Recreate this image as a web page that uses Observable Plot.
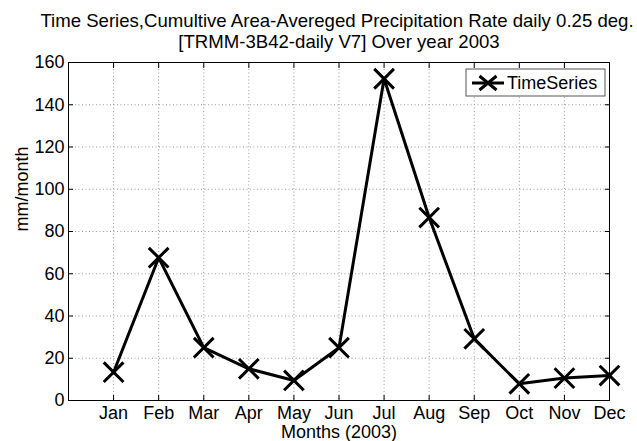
<!DOCTYPE html>
<html><head><meta charset="utf-8">
<script src="https://cdn.jsdelivr.net/npm/d3@7"></script>
<script src="https://cdn.jsdelivr.net/npm/@observablehq/plot@0.6"></script>
<style>body{margin:0;background:#fff;} svg{font-family:"Liberation Sans",Arial,sans-serif;}</style>
</head><body><div id="chart"></div>
<script>
const months = ["Jan","Feb","Mar","Apr","May","Jun","Jul","Aug","Sep","Oct","Nov","Dec"];
const monthIndex = [1,2,3,4,5,6,7,8,9,10,11,12];
const precip = [13.4, 67.6, 25.0, 15.0, 9.5, 25.0, 152.3, 86.6, 29.2, 7.9, 10.6, 11.8];
const yTicks = [0,20,40,60,80,100,120,140,160];
const titleLines = ["Time Series,Cumultive Area-Avereged Precipitation Rate daily 0.25 deg.", "[TRMM-3B42-daily V7] Over year 2003"];
const seriesName = "TimeSeries";

const data = monthIndex.map((m,i)=>({m, v: precip[i]}));
const grid = {stroke:"#9a9a9a", strokeOpacity:1, strokeDasharray:"1,2.5", strokeWidth:1};

const chart = Plot.plot({
  width: 637, height: 441,
  marginLeft: 68, marginRight: 28, marginTop: 62, marginBottom: 41,
  style: {fontSize: "18px", fontFamily: '"Liberation Sans",Arial,sans-serif', color:"#000"},
  x: {domain: [0, 12]},
  y: {domain: [0, 160]},
  marks: [
    Plot.gridX(monthIndex, grid),
    Plot.gridY(yTicks, grid),
    Plot.frame({stroke:"#000", strokeWidth:1}),
    Plot.axisX(monthIndex, {tickFormat: d => months[d-1], tickSize: 0, tickPadding: 6, label: null, fontSize: 18}),
    Plot.axisX(monthIndex, {anchor:"bottom", tickSize: -5, text: null, label: null}),
    Plot.axisX(monthIndex, {anchor:"top", tickSize: -5, text: null, label: null}),
    Plot.axisY(yTicks, {tickSize: 0, tickPadding: 4, label: null, fontSize: 18}),
    Plot.axisY(yTicks, {anchor:"left", tickSize: -5, text: null, label: null}),
    Plot.axisY(yTicks, {anchor:"right", tickSize: -5, text: null, label: null}),
    Plot.text(["Months (2003)"], {frameAnchor:"bottom", lineAnchor:"middle", dy: 32, fontSize: 18}),
    Plot.text(["mm/month"], {frameAnchor:"left", lineAnchor:"middle", dx: -46.5, rotate: -90, fontSize: 18}),
    Plot.text([titleLines[0]], {frameAnchor:"top", lineAnchor:"middle", dy: -41.5, dx: -2, fontSize: 18.6}),
    Plot.text([titleLines[1]], {frameAnchor:"top", lineAnchor:"middle", dy: -20.5, fontSize: 18.6}),
    Plot.line(data, {x:"m", y:"v", stroke:"#000", strokeWidth:3}),
    Plot.dot(data, {x:"m", y:"v", symbol:"times", r: 9, stroke:"#000", strokeWidth:3})
  ]
});
document.getElementById("chart").appendChild(chart);

// Legend box
const svg = d3.select(chart);
const lg = svg.append("g").attr("transform","translate(466,69)");
lg.append("rect").attr("width",139).attr("height",27).attr("fill","#fff").attr("stroke","#555");
lg.append("line").attr("x1",6).attr("x2",38).attr("y1",14).attr("y2",14).attr("stroke","#000").attr("stroke-width",3);
lg.append("path").attr("d","M13.5,7L30.5,21M13.5,21L30.5,7").attr("stroke","#000").attr("stroke-width",3);
lg.append("text").attr("x",41).attr("y",20.3).attr("font-size",18).attr("text-anchor","start").text(seriesName);
</script></body></html>
